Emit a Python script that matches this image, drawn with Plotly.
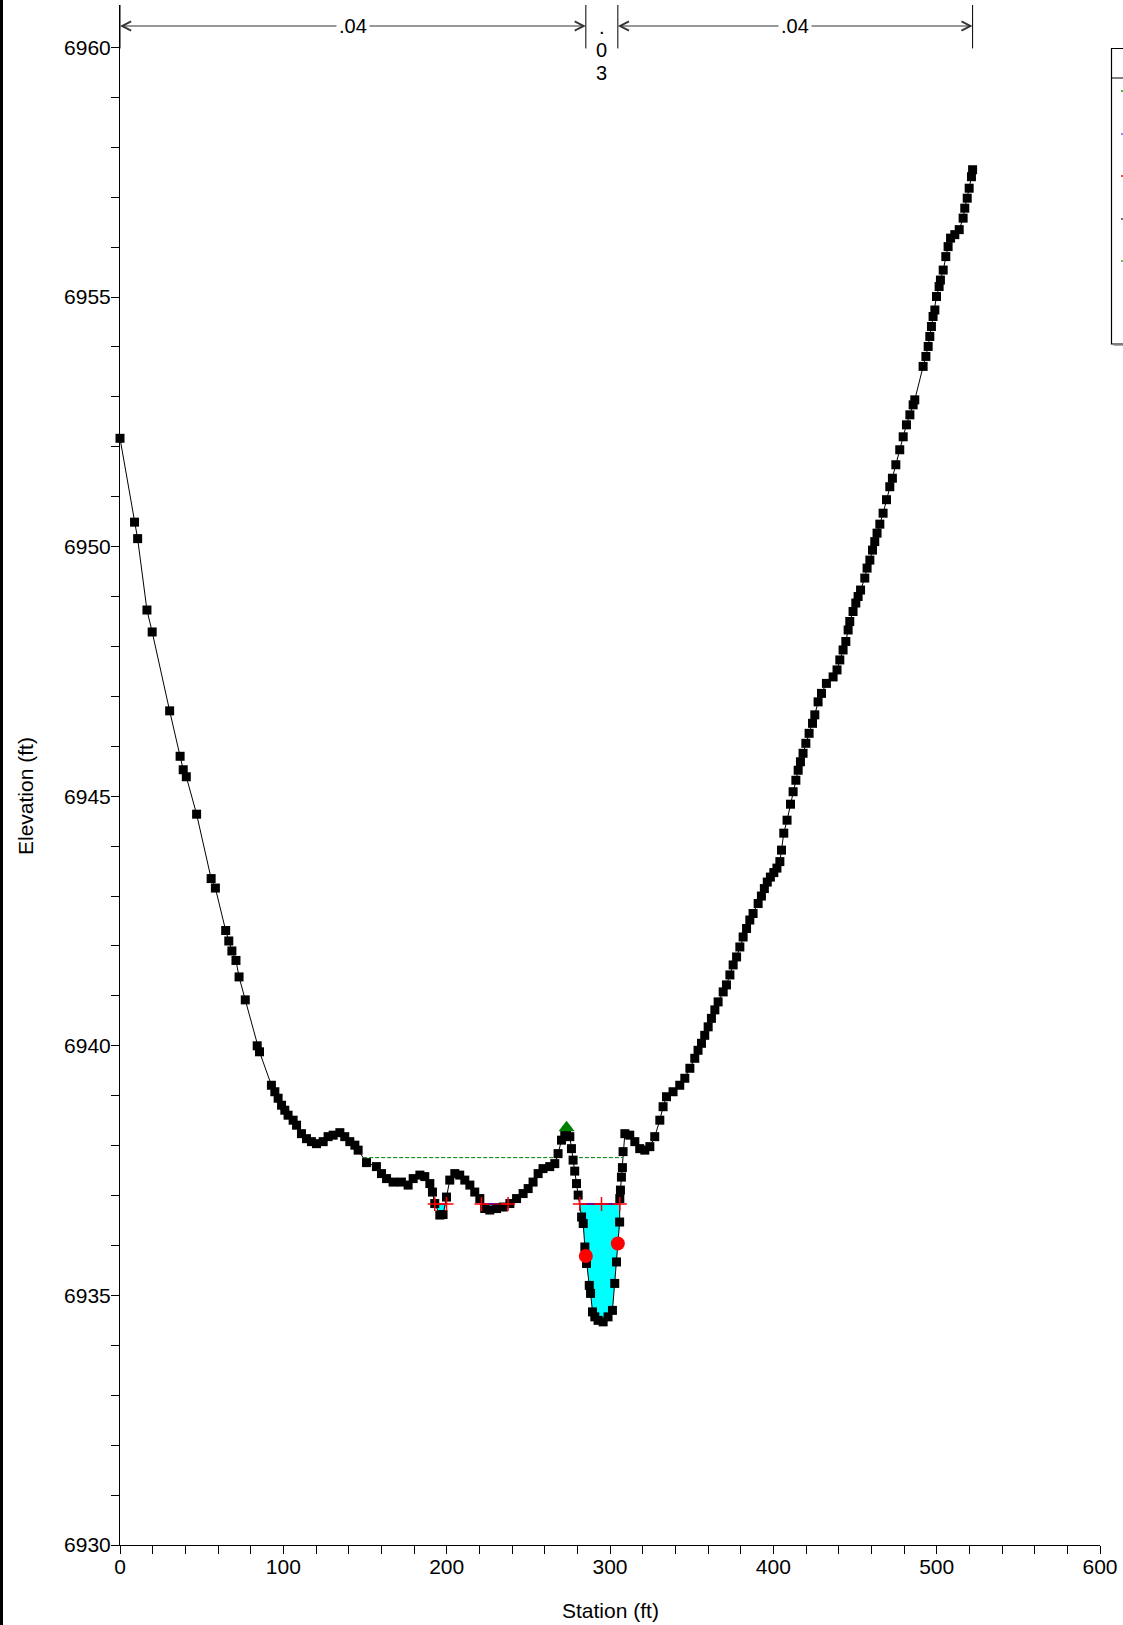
import plotly.graph_objects as go

# ---------------- data ----------------
station = [0, 8.9, 10.8, 16.5, 19.7, 30.4, 36.8, 38.7, 40.6, 46.9, 55.8, 58.4, 64.7, 66.6, 68.5, 71.0,
           72.9, 76.7, 84.0, 85.4, 92.7, 94.8, 96.8, 98.9, 100.9, 102.9, 106.0, 108.1, 111.1, 114.2,
           117.2, 120.3, 124.4, 127.4, 130.5, 134.6, 137.6, 140.7, 143.8, 145.8, 150.9, 157.0, 160.1,
           163.2, 167.2, 172.3, 176.4, 179.5, 183.6, 186.6, 189.7, 191.3, 192.7, 195.8, 197.8, 199.9,
           201.9, 205.0, 208.0, 211.1, 214.2, 217.2, 220.3, 223.3, 226.4, 230.5, 234.6, 238.7, 242.8,
           246.8, 249.9, 252.9, 256.0, 259.0, 263.1, 266.2, 268.2, 270.3, 272.3, 273.4, 275.4, 276.4,
           277.4, 278.4, 279.5, 280.5, 282.6, 283.6, 284.6, 285.6, 287.3, 288.1, 289.3, 290.7, 292.7,
           295.8, 298.8, 301.5, 302.9, 304.0, 305.0, 305.9, 306.0, 306.4, 307.0, 307.6, 308.0, 309.1,
           312.1, 315.2, 318.2, 321.3, 324.4, 327.4, 330.5, 332.5, 334.6, 338.6, 342.7, 345.8, 348.9,
           351.9, 353.9, 356.0, 358.0, 360.1, 362.1, 364.2, 366.2, 369.3, 371.3, 373.4, 375.4, 377.5,
           379.5, 381.5, 383.6, 385.6, 387.6, 390.7, 392.7, 394.5, 396.3, 398.2, 400.3, 402.2, 404.0,
           405.0, 406.4, 408.4, 410.5, 412.1, 413.8, 415.2, 416.6, 418.2, 419.9, 421.9, 424.0, 425.4,
           427.4, 429.5, 432.5, 436.6, 439.0, 440.7, 442.7, 444.4, 445.8, 446.8, 448.8, 450.5, 451.9,
           453.4, 456.0, 457.4, 459.1, 460.7, 462.1, 463.5, 465.2, 467.2, 469.3, 471.3, 472.9, 475.0,
           477.4, 479.5, 481.5, 483.6, 485.6, 486.6, 491.7, 493.4, 494.8, 495.8, 496.8, 497.8, 498.9,
           499.9, 501.5, 502.3, 504.0, 505.6, 507.0, 508.5, 511.1, 513.8, 516.2, 517.2, 518.7, 519.9,
           521.3, 522.0]
elevation = [6952.17, 6950.49, 6950.16, 6948.73, 6948.29, 6946.71, 6945.80, 6945.53, 6945.39, 6944.64,
             6943.35, 6943.16, 6942.31, 6942.10, 6941.90, 6941.71, 6941.38, 6940.92, 6940.00, 6939.88,
             6939.21, 6939.08, 6938.95, 6938.81, 6938.71, 6938.61, 6938.51, 6938.41, 6938.24, 6938.14,
             6938.08, 6938.04, 6938.08, 6938.18, 6938.21, 6938.26, 6938.18, 6938.08, 6938.01, 6937.91,
             6937.66, 6937.58, 6937.44, 6937.34, 6937.27, 6937.27, 6937.21, 6937.34, 6937.41, 6937.38,
             6937.24, 6937.07, 6936.84, 6936.61, 6936.62, 6936.97, 6937.31, 6937.44, 6937.41, 6937.31,
             6937.21, 6937.07, 6936.94, 6936.74, 6936.71, 6936.74, 6936.77, 6936.84, 6936.94, 6937.04,
             6937.14, 6937.27, 6937.44, 6937.54, 6937.58, 6937.64, 6937.84, 6938.11, 6938.24, 6938.30,
             6938.18, 6937.94, 6937.71, 6937.49, 6937.24, 6937.01, 6936.57, 6936.44, 6935.97, 6935.64,
             6935.20, 6935.04, 6934.67, 6934.57, 6934.50, 6934.47, 6934.57, 6934.70, 6935.24, 6935.67,
             6936.04, 6936.47, 6936.94, 6937.11, 6937.37, 6937.56, 6937.88, 6938.24, 6938.21, 6938.08,
             6937.94, 6937.91, 6937.98, 6938.18, 6938.51, 6938.78, 6938.98, 6939.08, 6939.21, 6939.35,
             6939.55, 6939.75, 6939.91, 6940.05, 6940.21, 6940.38, 6940.55, 6940.72, 6940.88, 6941.08,
             6941.22, 6941.42, 6941.62, 6941.78, 6941.98, 6942.18, 6942.35, 6942.52, 6942.65, 6942.85,
             6943.00, 6943.15, 6943.28, 6943.38, 6943.47, 6943.56, 6943.69, 6943.92, 6944.26, 6944.52,
             6944.84, 6945.09, 6945.32, 6945.52, 6945.69, 6945.86, 6946.06, 6946.26, 6946.46, 6946.63,
             6946.89, 6947.06, 6947.26, 6947.39, 6947.53, 6947.73, 6947.93, 6948.10, 6948.33, 6948.50,
             6948.70, 6948.87, 6949.00, 6949.13, 6949.37, 6949.57, 6949.73, 6949.93, 6950.10, 6950.27,
             6950.45, 6950.67, 6950.94, 6951.20, 6951.37, 6951.64, 6951.94, 6952.20, 6952.44, 6952.64,
             6952.84, 6952.94, 6953.61, 6953.81, 6954.01, 6954.21, 6954.41, 6954.61, 6954.74, 6955.01,
             6955.21, 6955.34, 6955.54, 6955.81, 6956.01, 6956.18, 6956.25, 6956.35, 6956.58, 6956.78,
             6956.98, 6957.18, 6957.41, 6957.55]

ws_elev = 6936.83
ws_extents = [(192.7, 199.9), (221.3, 237.6), (281.5, 306.0)]
crit_stations = [[192.7, 199.9], [221.3, 237.6], [281.5, 294.8, 306.0]]
eg_elev = 6937.76
eg_stations = [148.9, 268.0, None, 277.3, 307.6]
bank_station = [285.2, 304.8]
bank_elev = [6935.79, 6936.04]
levee_station = [273.4]
levee_elev = [6938.36]
n_breaks = [0, 285.2, 304.8, 522.0]
n_labels = [".04", ".03", ".04"]

x_ticks = [0, 100, 200, 300, 400, 500, 600]
y_ticks = [6930, 6935, 6940, 6945, 6950, 6955, 6960]

# ---------------- layout geometry ----------------
W, H = 1123, 1625
ML, MR, MT, MB = 120, 23, 5, 80
X_RANGE = [0, 600]
Y_RANGE = [6930, 6960.85]
PW, PH = W - ML - MR, H - MT - MB
FONT = "Liberation Sans, Arial, sans-serif"


def px_x(p):
    return (p - ML) / PW


def px_y(p):
    return (H - MB - p) / PH


def elev_at_px(p):
    return Y_RANGE[0] + (H - MB - p) / PH * (Y_RANGE[1] - Y_RANGE[0])


fig = go.Figure()

# water fill
fx, fy = [], []
for a, b in ws_extents:
    ins = [(s, e) for s, e in zip(station, elevation) if a < s < b]
    fx += [a] + [s for s, _ in ins] + [b, a, None]
    fy += [ws_elev] + [e for _, e in ins] + [ws_elev, ws_elev, None]
fig.add_trace(go.Scatter(x=fx, y=fy, mode="none", fill="toself", fillcolor="#00FFFF",
                         hoverinfo="skip", showlegend=False))

# WS line
wx, wy = [], []
for a, b in ws_extents:
    wx += [a, b, None]
    wy += [ws_elev, ws_elev, None]
fig.add_trace(go.Scatter(x=wx, y=wy, mode="lines", line=dict(color="#0000FF", width=2),
                         showlegend=False))

# EG line
fig.add_trace(go.Scatter(x=eg_stations, y=[eg_elev if s is not None else None for s in eg_stations],
                         mode="lines", line=dict(color="#008000", width=1, dash="4px,2px"),
                         showlegend=False))

# Ground
fig.add_trace(go.Scatter(x=station, y=elevation, mode="lines+markers",
                         line=dict(color="black", width=1),
                         marker=dict(symbol="square", size=9, color="black"),
                         cliponaxis=False, showlegend=False))

# Crit line
cx, cy = [], []
for grp in crit_stations:
    cx += grp + [None]
    cy += [ws_elev] * len(grp) + [None]
fig.add_trace(go.Scatter(x=cx, y=cy, mode="lines+markers", line=dict(color="#FF0000", width=1),
                         marker=dict(symbol="cross-thin", size=10, line=dict(color="#FF0000", width=1.5)),
                         showlegend=False))

# Bank stations
fig.add_trace(go.Scatter(x=bank_station, y=bank_elev, mode="markers",
                         marker=dict(symbol="circle", size=14, color="#FF0000"), showlegend=False))

# Levee
fig.add_trace(go.Scatter(x=levee_station, y=levee_elev, mode="markers",
                         marker=dict(symbol="triangle-up", size=14, color="#008000"), showlegend=False))

shapes = []
annotations = []

# n-value break bars
for s in n_breaks:
    shapes.append(dict(type="line", xref="x", yref="y", x0=s, x1=s, y0=6959.98, y1=Y_RANGE[1],
                       line=dict(color="black", width=1)))

arrow_y = elev_at_px(26)
for i, lab in enumerate(n_labels):
    a, b = n_breaks[i], n_breaks[i + 1]
    c = (a + b) / 2
    if b - a > 50:
        for end in (a, b):
            annotations.append(dict(x=end, y=arrow_y, ax=c, ay=arrow_y, axref="x", ayref="y",
                                    xref="x", yref="y", text="", showarrow=True, arrowhead=5,
                                    arrowsize=1.8, arrowwidth=1, arrowcolor="#333333", standoff=0))
        annotations.append(dict(x=c, y=arrow_y, xref="x", yref="y", text=lab, showarrow=False,
                                bgcolor="white", borderpad=2,
                                font=dict(family=FONT, size=20, color="black")))
    else:
        chars = list(lab)
        ys = [27, 50, 73]
        for ch, yp in zip(chars, ys):
            annotations.append(dict(x=c, y=elev_at_px(yp), xref="x", yref="y", text=ch,
                                    showarrow=False, font=dict(family=FONT, size=20, color="black")))

# axis titles
annotations.append(dict(x=px_x(610), y=px_y(1610), xref="paper", yref="paper", text="Station (ft)",
                        xanchor="center", yanchor="middle",
                        showarrow=False, font=dict(family=FONT, size=21, color="black")))
annotations.append(dict(x=px_x(25), y=px_y(796), xref="paper", yref="paper", text="Elevation (ft)",
                        xanchor="center", yanchor="middle",
                        showarrow=False, textangle=-90, font=dict(family=FONT, size=21, color="black")))

# left black edge bar
shapes.append(dict(type="rect", xref="paper", yref="paper", x0=px_x(0), x1=px_x(3),
                   y0=px_y(H + 5), y1=px_y(-5), fillcolor="black", line=dict(width=0)))

# legend box (cut off at right edge)
lb_left, lb_top, lb_bot, lb_sep = 1111.5, 48.5, 344, 78
shapes.append(dict(type="rect", xref="paper", yref="paper", x0=px_x(lb_left), x1=px_x(1160),
                   y0=px_y(lb_bot), y1=px_y(lb_top), line=dict(color="black", width=1.2)))
shapes.append(dict(type="line", xref="paper", yref="paper", x0=px_x(lb_left), x1=px_x(1160),
                   y0=px_y(lb_sep), y1=px_y(lb_sep), line=dict(color="black", width=1)))
shapes.append(dict(type="line", xref="paper", yref="paper", x0=px_x(lb_left + 2), x1=px_x(1160),
                   y0=px_y(lb_bot + 1.5), y1=px_y(lb_bot + 1.5), line=dict(color="#AAAAAA", width=1)))
for yp, col in zip([91, 134, 176, 219, 261], ["#00A000", "#6060FF", "#FF0000", "#404040", "#30B030"]):
    shapes.append(dict(type="line", xref="paper", yref="paper", x0=px_x(1121), x1=px_x(1140),
                       y0=px_y(yp), y1=px_y(yp), line=dict(color=col, width=1.5)))

fig.update_layout(
    width=W, height=H,
    margin=dict(l=ML, r=MR, t=MT, b=MB, pad=0),
    paper_bgcolor="white", plot_bgcolor="white",
    showlegend=False,
    shapes=shapes, annotations=annotations,
    font=dict(family=FONT, size=21, color="black"),
)
fig.update_xaxes(range=X_RANGE, tickmode="array", tickvals=x_ticks, ticktext=[str(v) for v in x_ticks],
                 showline=True, linecolor="black", linewidth=1, ticks="outside", ticklen=8,
                 tickcolor="black", tickwidth=1, showgrid=False, zeroline=False,
                 tickfont=dict(family=FONT, size=21),
                 minor=dict(tickmode="linear", tick0=0, dtick=20, ticks="outside", ticklen=8,
                            tickcolor="black", tickwidth=1, showgrid=False))
fig.update_yaxes(range=Y_RANGE, tickmode="array", tickvals=y_ticks, ticktext=[str(v) for v in y_ticks],
                 showline=True, linecolor="black", linewidth=1, ticks="outside", ticklen=8,
                 tickcolor="black", tickwidth=1, showgrid=False, zeroline=False,
                 tickfont=dict(family=FONT, size=21),
                 minor=dict(tickmode="linear", tick0=6930, dtick=1, ticks="outside", ticklen=8,
                            tickcolor="black", tickwidth=1, showgrid=False))
try:
    fig.update_xaxes(ticklabelstandoff=-5)
    fig.update_yaxes(ticklabelstandoff=-4)
except Exception:
    pass

fig.write_html("out.html")
